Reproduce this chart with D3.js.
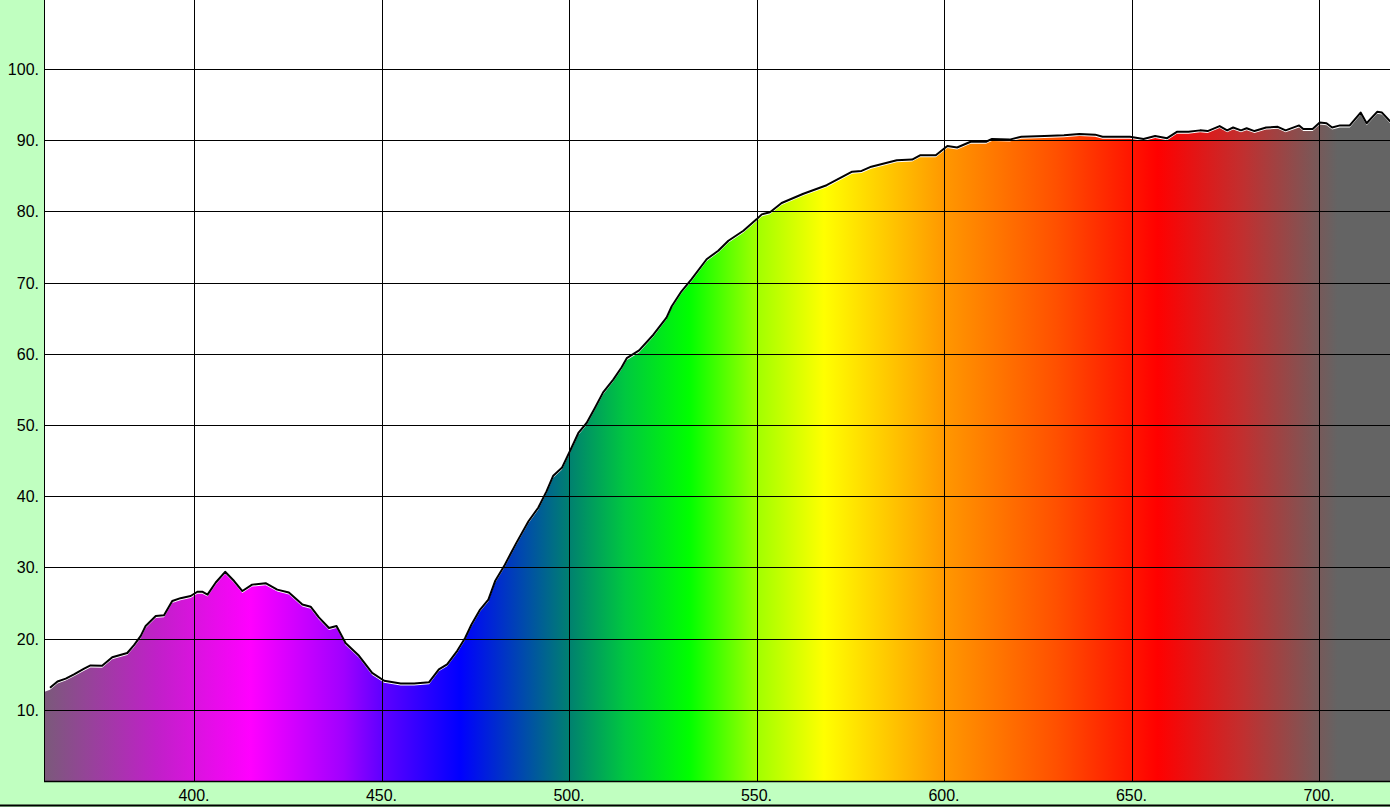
<!DOCTYPE html>
<html>
<head>
<meta charset="utf-8">
<script src="https://cdn.jsdelivr.net/npm/d3@7"></script>
<style>
  html, body { margin: 0; padding: 0; background: #c0ffc0; }
  svg { display: block; }
  text { font-family: "Liberation Sans", Arial, sans-serif; font-size: 16px; fill: #000; }
</style>
</head>
<body>
<svg id="chart" width="1390" height="807"></svg>
<script>
// Wavelength (nm) samples and transmittance values (%)
const wavelengths = [360.0,361.6,363.6,365.8,368.0,370.7,372.4,375.5,378.2,382.2,384.0,385.8,387.1,389.8,392.0,394.2,396.4,399.1,400.9,402.2,403.6,405.8,408.3,410.7,412.9,415.5,419.1,422.2,425.3,428.9,431.1,433.3,436.0,438.0,440.4,444.0,447.5,450.7,455.1,458.7,462.7,465.3,467.5,470.2,472.3,474.0,476.3,478.5,480.3,482.9,486.0,489.2,491.8,494.0,495.8,498.1,500.3,502.5,504.7,506.9,509.1,511.8,514.0,515.4,518.7,522.5,526.0,527.4,530.0,532.7,536.7,539.8,542.5,546.5,550.0,551.4,553.6,556.7,562.5,568.7,575.5,578.0,580.6,587.4,591.5,593.6,597.8,600.9,603.5,607.1,611.2,612.8,617.5,620.6,626.8,632.0,636.1,640.3,642.3,649.6,653.2,656.3,659.5,662.1,665.2,668.3,670.3,673.5,675.5,677.1,679.2,680.7,682.8,685.9,689.0,691.1,694.7,695.8,698.3,700.2,702.0,703.5,705.6,708.2,711.1,712.7,715.5,716.8,718.9,720.0];
const values = [12.5,12.8,13.7,14.1,14.7,15.5,15.95,15.9,17.1,17.7,18.8,20.1,21.5,22.9,23.0,25.0,25.4,25.7,26.3,26.3,25.9,27.6,29.1,27.8,26.4,27.3,27.5,26.6,26.2,24.5,24.2,22.7,21.2,21.5,19.1,17.3,14.9,13.8,13.4,13.4,13.6,15.4,16.1,18.0,19.8,21.7,23.8,25.2,27.8,30.1,33.2,36.2,38.1,40.4,42.6,43.7,46.1,48.6,50.0,52.1,54.3,56.1,57.8,59.1,60.2,62.4,64.8,66.4,68.5,70.2,73.0,74.2,75.6,77.0,78.6,79.3,79.6,80.9,82.2,83.4,85.3,85.4,86.0,86.9,87.0,87.6,87.6,88.9,88.7,89.5,89.5,89.9,89.8,90.2,90.3,90.4,90.6,90.5,90.2,90.2,89.9,90.3,90.0,90.9,90.9,91.1,91.0,91.7,91.1,91.5,91.1,91.4,91.0,91.5,91.6,91.1,91.8,91.3,91.3,92.2,92.1,91.5,91.8,91.8,93.6,92.1,93.7,93.6,92.4,92.8];

const xTicks = [400, 450, 500, 550, 600, 650, 700];
const xTickLabels = ["400.", "450.", "500.", "550.", "600.", "650.", "700."];
const yTicks = [10, 20, 30, 40, 50, 60, 70, 80, 90, 100];
const yTickLabels = ["10.", "20.", "30.", "40.", "50.", "60.", "70.", "80.", "90.", "100."];

// Spectrum colour stops (wavelength nm -> colour)
const spectrumNm = [360, 390, 415, 440, 450, 471, 500, 515, 532, 550, 568, 585, 600, 630, 657, 680, 705, 720];
const spectrumColors = ["#7a5a7a", "#c020c8", "#ff00ff", "#a000ff", "#6000ff", "#0000ff", "#008070", "#00c840", "#00ff00", "#a0ff00", "#ffff00", "#ffc800", "#ff9800", "#ff5000", "#ff0000", "#c03030", "#646464", "#646464"];

const data = wavelengths.map((w, i) => ({ w, v: values[i] }));

const svg = d3.select("#chart");
const W = 1390, H = 807;

const x = d3.scaleLinear().domain([400, 700]).range([194, 1319]);
const y = d3.scaleLinear().domain([0, 100]).range([781, 69]);
const x0 = x(360), yBottom = y(0);

svg.append("rect").attr("width", W).attr("height", H).attr("fill", "#c0ffc0");
svg.append("rect").attr("x", x0).attr("y", 0).attr("width", W - x0).attr("height", yBottom).attr("fill", "#ffffff");

// gradient
const defs = svg.append("defs");
const grad = defs.append("linearGradient").attr("id", "spec")
  .attr("gradientUnits", "userSpaceOnUse")
  .attr("x1", x(360)).attr("x2", x(720)).attr("y1", 0).attr("y2", 0);
spectrumNm.forEach((nm, i) => {
  grad.append("stop").attr("offset", (nm - 360) / 360).attr("stop-color", spectrumColors[i]);
});

const area = d3.area().x(d => x(d.w)).y0(yBottom).y1(d => y(d.v));
svg.append("path").datum(data).attr("d", area).attr("fill", "url(#spec)");

// grid
const crisp = v => Math.round(v) + 0.5;
svg.append("g").selectAll("line").data(yTicks).join("line")
  .attr("x1", x0).attr("x2", W).attr("y1", d => crisp(y(d))).attr("y2", d => crisp(y(d)))
  .attr("stroke", "#000").attr("stroke-width", 1);
svg.append("g").selectAll("line").data(xTicks).join("line")
  .attr("x1", d => crisp(x(d))).attr("x2", d => crisp(x(d))).attr("y1", 0).attr("y2", yBottom)
  .attr("stroke", "#000").attr("stroke-width", 1);

// curve outline (slightly above fill)
const line = d3.line().x(d => x(d.w)).y(d => y(d.v));
svg.append("path").datum(data.slice(1)).attr("d", line)
  .attr("transform", "translate(0,-2)")
  .attr("fill", "none").attr("stroke", "#000").attr("stroke-width", 2).attr("stroke-linejoin", "round");

// axes frame
svg.append("line").attr("x1", crisp(x0)).attr("x2", crisp(x0)).attr("y1", 0).attr("y2", yBottom + 1)
  .attr("stroke", "#000").attr("stroke-width", 1);
svg.append("line").attr("x1", x0).attr("x2", W).attr("y1", crisp(yBottom)).attr("y2", crisp(yBottom))
  .attr("stroke", "#000").attr("stroke-width", 1.5);
svg.append("line").attr("x1", 0).attr("x2", W).attr("y1", 805.5).attr("y2", 805.5)
  .attr("stroke", "#000").attr("stroke-width", 2);

// labels
svg.append("g").selectAll("text").data(yTicks).join("text")
  .attr("x", 39).attr("y", d => y(d) + 6).attr("text-anchor", "end")
  .text((d, i) => yTickLabels[i]);
svg.append("g").selectAll("text").data(xTicks).join("text")
  .attr("x", d => x(d)).attr("y", 801).attr("text-anchor", "middle")
  .text((d, i) => xTickLabels[i]);
</script>
</body>
</html>
